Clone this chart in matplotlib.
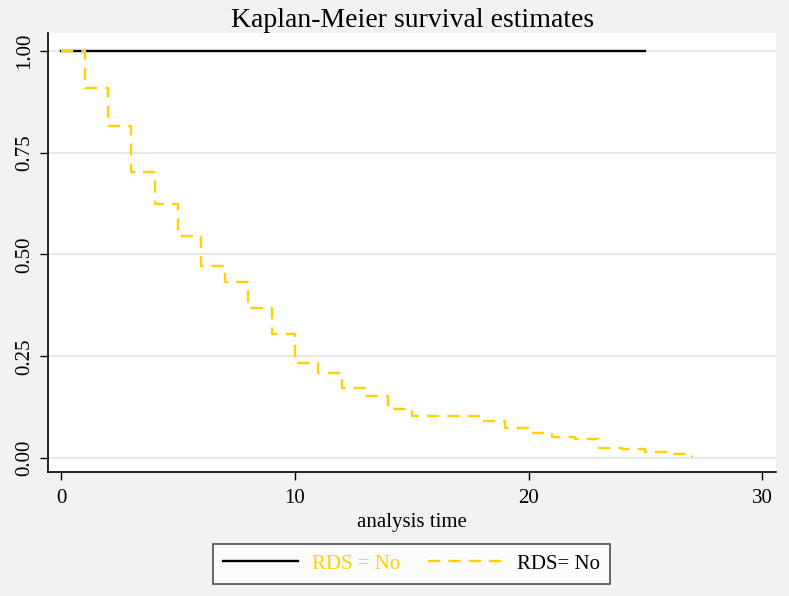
import matplotlib
matplotlib.use("Agg")

import matplotlib.pyplot as plt
import numpy as np

# ── Data ──────────────────────────────────────────────────────────────────────
# Kaplan-Meier step estimates
t_solid = [0, 25]
s_solid = [1.0, 1.0]

t_dash = [0, 1, 2, 3, 4, 5, 6, 7, 8, 9, 10, 11, 12, 13, 14, 15, 16, 17,
          18, 19, 20, 21, 22, 23, 24, 25, 26, 27]
s_dash = [1.0, 0.908, 0.815, 0.702, 0.623, 0.545, 0.472, 0.432, 0.368, 0.305,
          0.233, 0.208, 0.172, 0.152, 0.120, 0.103, 0.103, 0.103, 0.091, 0.075,
          0.063, 0.052, 0.047, 0.024, 0.022, 0.016, 0.010, 0.004]

legend_labels = ["RDS = No", "RDS= No"]
x_ticks = [0, 10, 20, 30]
y_ticks = [0.0, 0.25, 0.5, 0.75, 1.0]

GOLD = "#ffd200"
BG = "#f2f2f2"

plt.rcParams["font.family"] = ["Liberation Serif", "DejaVu Serif"]

fig = plt.figure(figsize=(7.89, 5.96), dpi=100, facecolor=BG)
ax = fig.add_axes([0.061, 0.208, 0.923, 0.737])
ax.set_facecolor("white")

ax.step(t_solid, s_solid, where="post", color="black", lw=1.7,
        label=legend_labels[0], zorder=2)
dash_line, = ax.step(t_dash, s_dash, where="post", color=GOLD, lw=1.7,
                     label=legend_labels[1], zorder=3)
dash_line.set_dashes([5.2, 3.4])

ax.set_xlim(-0.56, 30.6)
ax.set_ylim(-0.034, 1.044)
ax.set_xticks(x_ticks)
ax.set_yticks(y_ticks)
ax.set_yticklabels([f"{v:.2f}" for v in y_ticks], rotation=90, va="center")
ax.tick_params(axis="both", direction="out", length=6, width=1,
               labelsize=15, color="black")
ax.tick_params(axis="x", pad=6)
ax.tick_params(axis="y", pad=4)
ax.grid(axis="y", color="#e8e8e8", lw=1.5, zorder=0)
ax.set_axisbelow(True)

for side in ["top", "right"]:
    ax.spines[side].set_visible(False)
for side in ["left", "bottom"]:
    ax.spines[side].set_linewidth(1.2)

ax.set_xlabel("analysis time", fontsize=15, labelpad=4)
ax.set_title("Kaplan-Meier survival estimates", fontsize=20, pad=3)

leg = fig.legend(loc="center", bbox_to_anchor=(0.5215, 0.0537), ncol=2,
                 fontsize=15, frameon=True, fancybox=False, edgecolor="#222222",
                 handlelength=3.6, columnspacing=1.35, borderpad=0.5,
                 handletextpad=0.65)
leg.get_frame().set_linewidth(1.2)
leg.get_texts()[0].set_color(GOLD)
leg.get_texts()[1].set_color("black")

plt.savefig("out.png", dpi=100, facecolor=BG)
plt.close(fig)
